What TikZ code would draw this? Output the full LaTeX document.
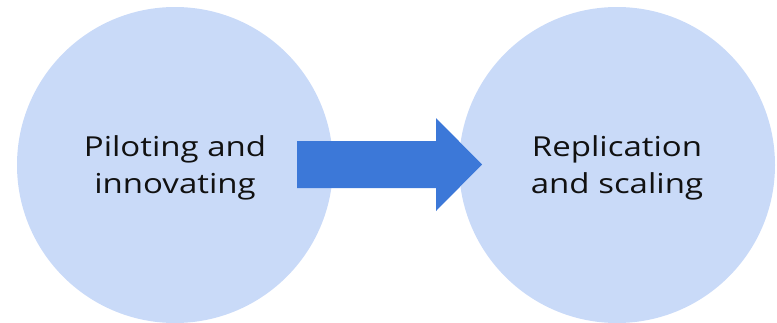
\documentclass[tikz,border=0pt]{standalone}
\usepackage{fontspec}
\setmainfont[FakeStretch=1.2]{Open Sans}
\definecolor{circfill}{HTML}{C9DAF8}
\definecolor{arrowfill}{HTML}{3C78D8}
\definecolor{txt}{HTML}{111111}
\begin{document}
\begin{tikzpicture}[x=1pt,y=-1pt,
  stage/.style={circle,fill=circfill,draw=none,minimum size=316pt,inner sep=0pt},
  label/.style={align=center,text=txt,font=\fontsize{27.5}{37}\selectfont}]
\useasboundingbox (0,0) rectangle (777,322);
\node[stage] (left) at (175,165) {};
\node[stage] (right) at (617,165) {};
\fill[arrowfill] (297,141) -- (436,141) -- (436,118) -- (482,164.5) -- (436,211) -- (436,188) -- (297,188) -- cycle;
\node[label] (lt) at (175,168) {Piloting and\\innovating};
\node[label] (rt) at (617,168) {Replication\\and scaling};
\end{tikzpicture}
\end{document}
